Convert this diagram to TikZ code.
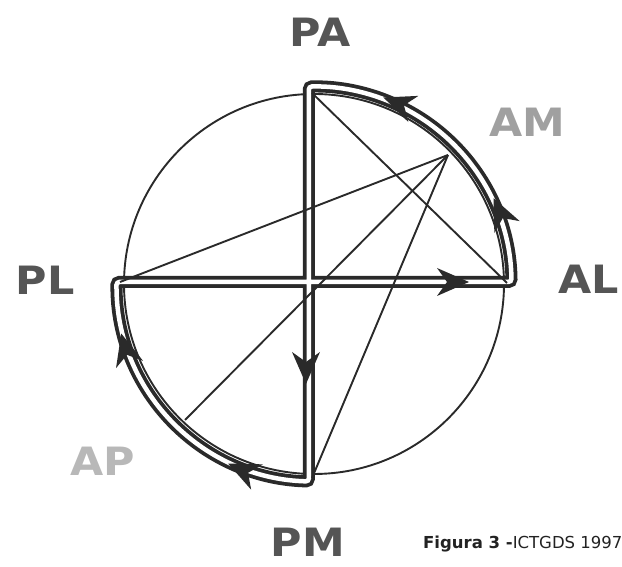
\documentclass[tikz,border=0pt]{standalone}
\usepackage{fontspec}
\setmainfont{DejaVu Sans}
\usetikzlibrary{calc}
\definecolor{ink}{HTML}{2A2A2A}
\definecolor{labdark}{HTML}{555555}
\definecolor{lablight}{HTML}{A0A0A0}
\definecolor{labfaint}{HTML}{B8B8B8}
\definecolor{captink}{HTML}{222222}
\tikzset{
  thinline/.style={draw=ink, line width=1.9pt},
  route/.style={draw=ink, line width=3.8pt, double=white, double distance=4.5pt, rounded corners=3pt},
  lab/.style={font=\fontsize{39}{39}\selectfont\bfseries, inner sep=0pt},
  ahead/.pic={\fill[ink] (2pt,0) -- (-30pt,14pt) -- (-20pt,0pt) -- (-30pt,-14pt) -- cycle;}
}
\begin{document}
\begin{tikzpicture}[x=1pt,y=1pt]
\useasboundingbox (0,0) rectangle (622,567);
\coordinate (C) at (314,283);
% points on the circle
\coordinate (PA) at (312,474);
\coordinate (AL) at (507,284);
\coordinate (AM) at (448,412);
\coordinate (PL) at (120,285);
\coordinate (AP) at (185,147);
\coordinate (PM) at (312,89);
% circle
\draw[thinline] (C) circle[radius=190pt];
% route corners
\coordinate (PLc) at ($(C)+(179.4:197.5pt)$);
\coordinate (ALc) at ($(C)+(0.6:197.5pt)$);
\coordinate (PMc) at ($(C)+(268.5:197.5pt)$);
\draw[route] (PMc) arc[start angle=268.5, end angle=179.4, radius=197.5pt]
  -- (ALc) arc[start angle=0.6, end angle=91.5, radius=197.5pt] -- cycle;
% thin chords
\draw[thinline] (PA) -- (AL);
\draw[thinline] (AM) -- (PL);
\draw[thinline] (AM) -- (AP);
\draw[thinline] (AM) -- (PM);
% arrowheads
\pic[rotate=0] at (467,285) {ahead};
\pic[rotate=115] at ($(C)+(25:199pt)$) {ahead};
\pic[rotate=159] at ($(C)+(69:199pt)$) {ahead};
\pic[rotate=270] at (306,185) {ahead};
\pic[rotate=155] at ($(C)+(245:199pt)$) {ahead};
\pic[rotate=105] at ($(C)+(195:199pt)$) {ahead};
% labels
\node[lab, text=labdark] (lPA) at (320,535) {\scalebox{1.1}[1]{PA}};
\node[lab, text=lablight] (lAM) at (527,445) {\scalebox{1.1}[1]{AM}};
\node[lab, text=labdark] (lAL) at (589,288) {\scalebox{1.1}[1]{AL}};
\node[lab, text=labdark] (lPL) at (45,287) {\scalebox{1.1}[1]{PL}};
\node[lab, text=labfaint] (lAP) at (103,106) {\scalebox{1.1}[1]{AP}};
\node[lab, text=labdark] (lPM) at (308,25) {\scalebox{1.1}[1]{PM}};
% caption
\node[anchor=base west, inner sep=0pt, text=captink, font=\fontsize{16.5}{16.5}\selectfont] (cap) at (423,18) {\textbf{Figura 3 -}ICTGDS 1997};
\end{tikzpicture}
\end{document}
